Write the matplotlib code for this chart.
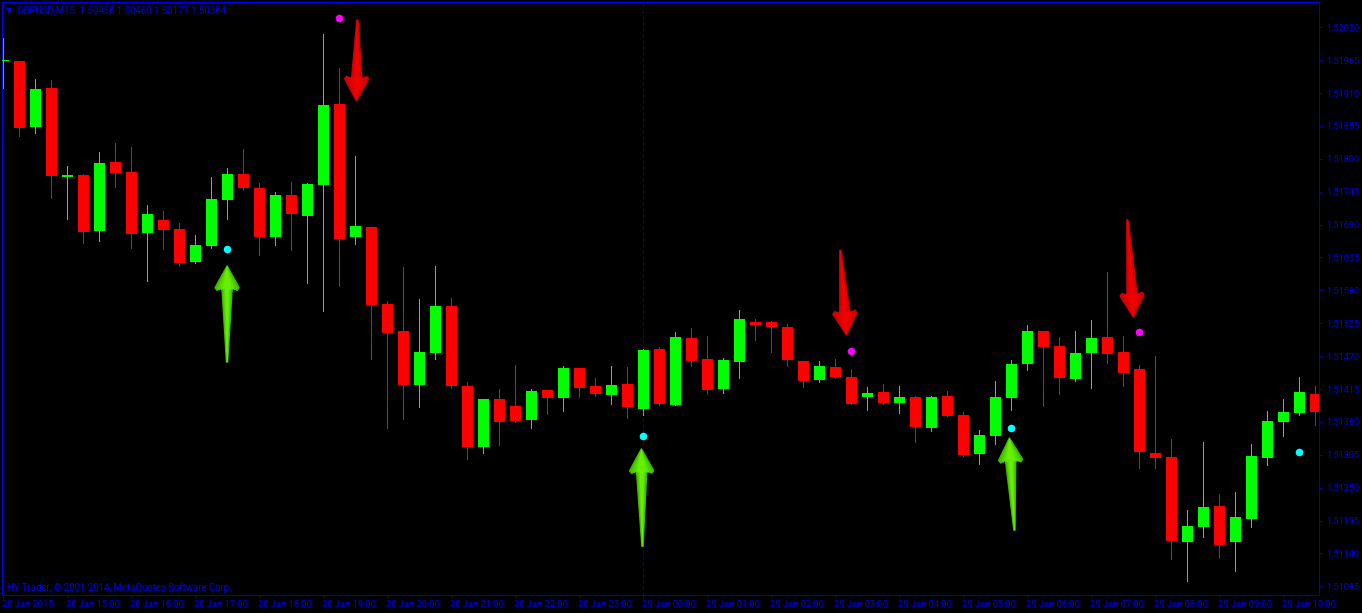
import matplotlib
matplotlib.use('Agg')
import matplotlib.pyplot as plt
import numpy as np
from matplotlib.patches import Polygon
from matplotlib.transforms import IdentityTransform, ScaledTranslation

plt.rcParams['font.family'] = ['Roboto', 'DejaVu Sans']

# 15 minute bars, prices in 1e-5 (points)
opens = [151964, 151964, 151853, 151918, 151770, 151773, 151679, 151795, 151778, 151676,
         151698, 151683, 151628, 151655, 151732, 151775, 151751, 151670, 151739, 151705,
         151757, 151892, 151670, 151686, 151557, 151512, 151422, 151475, 151554, 151420,
         151318, 151398, 151387, 151364, 151413, 151400, 151450, 151420, 151405, 151423,
         151382, 151482, 151389, 151500, 151465, 151415, 151461, 151527, 151527, 151519,
         151462, 151430, 151452, 151435, 151402, 151410, 151392, 151402, 151350, 151403,
         151371, 151306, 151337, 151400, 151457, 151512, 151487, 151432, 151476, 151502,
         151477, 151448, 151308, 151301, 151159, 151184, 151219, 151159, 151198, 151300,
         151360, 151375, 151407]
highs = [152002, 151964, 151934, 151932, 151788, 151775, 151811, 151826, 151820, 151723,
         151713, 151693, 151673, 151770, 151785, 151816, 151760, 151744, 151761, 151760,
         152009, 151952, 151805, 151686, 151562, 151619, 151566, 151621, 151567, 151427,
         151398, 151415, 151455, 151415, 151413, 151453, 151450, 151433, 151453, 151452,
         151482, 151485, 151510, 151517, 151504, 151467, 151547, 151532, 151529, 151524,
         151462, 151462, 151465, 151448, 151418, 151423, 151420, 151403, 151403, 151412,
         151376, 151346, 151428, 151463, 151522, 151512, 151502, 151512, 151530, 151611,
         151504, 151455, 151470, 151331, 151213, 151326, 151239, 151243, 151323, 151378,
         151398, 151435, 151420]
lows = [151918, 151839, 151844, 151735, 151700, 151660, 151663, 151753, 151651, 151596,
        151650, 151620, 151625, 151651, 151700, 151748, 151640, 151656, 151648, 151593,
        151546, 151588, 151658, 151466, 151349, 151365, 151385, 151466, 151417, 151298,
        151308, 151322, 151360, 151350, 151374, 151379, 151402, 151404, 151390, 151367,
        151372, 151389, 151389, 151454, 151407, 151409, 151434, 151497, 151477, 151454,
        151419, 151427, 151433, 151390, 151380, 151390, 151375, 151327, 151345, 151370,
        151303, 151290, 151323, 151380, 151447, 151387, 151407, 151429, 151417, 151459,
        151420, 151283, 151283, 151131, 151094, 151167, 151132, 151111, 151184, 151288,
        151337, 151372, 151355]
closes = [151965, 151852, 151917, 151772, 151773, 151678, 151793, 151776, 151675, 151708,
          151681, 151626, 151656, 151733, 151775, 151752, 151670, 151739, 151707, 151758,
          151890, 151666, 151688, 151556, 151509, 151422, 151477, 151554, 151420, 151318,
          151398, 151360, 151362, 151412, 151400, 151450, 151417, 151407, 151422, 151385,
          151480, 151390, 151502, 151462, 151414, 151463, 151532, 151522, 151519, 151464,
          151428, 151453, 151435, 151390, 151408, 151392, 151402, 151351, 151402, 151370,
          151305, 151338, 151402, 151457, 151512, 151486, 151434, 151475, 151500, 151474,
          151442, 151310, 151300, 151161, 151186, 151218, 151154, 151201, 151303, 151361,
          151376, 151410, 151377]

# indicator dots
sell_bars = [21, 53, 71]
sell_prices = [152035, 151479, 151510]
buy_bars = [14, 40, 63, 81]
buy_prices = [151649, 151336, 151350, 151310]

# hand drawn arrows: tip bar, tip price, tail bar, tail price
up_arrows = [(13.98, 151621, 13.98, 151460),
             (39.875, 151315, 39.94, 151152),
             (62.875, 151333, 63.19, 151179)]
down_arrows = [(22.06, 151897, 22.125, 152032),
               (52.69, 151505, 52.31, 151647),
               (70.625, 151535, 70.25, 151698)]

separator_bar = 40

price_ticks = [152020, 151965, 151910, 151855, 151800, 151745, 151690, 151635, 151580,
               151525, 151470, 151415, 151360, 151305, 151250, 151195, 151140, 151085]
time_ticks = list(range(0, 81, 4))
time_labels = ['28 Jan 2015', '28 Jan 15:00', '28 Jan 16:00', '28 Jan 17:00', '28 Jan 18:00',
               '28 Jan 19:00', '28 Jan 20:00', '28 Jan 21:00', '28 Jan 22:00', '28 Jan 23:00',
               '29 Jan 00:00', '29 Jan 01:00', '29 Jan 02:00', '29 Jan 03:00', '29 Jan 04:00',
               '29 Jan 05:00', '29 Jan 06:00', '29 Jan 07:00', '29 Jan 08:00', '29 Jan 09:00',
               '29 Jan 10:00']

header = 'GBPUSD,M15  1.50458 1.50460 1.50177 1.50384'
footer = 'HY Trader, © 2001-2014, MetaQuotes Software Corp.'

W, H = 1362, 613
TEXT_BLUE = '#0000f0'
UP = '#00ff00'
DOWN = '#ff0000'


def draw_arrow(ax, arrow, dark, light):
    tip_bar, tip_price, tail_bar, tail_price = arrow
    tip, tail = ax.transData.transform([(tip_bar, tip_price / 1e5), (tail_bar, tail_price / 1e5)])
    length = np.hypot(*(tail - tip))
    along = (tail - tip) / length
    side = np.array([-along[1], along[0]])
    # outline in pixels: distance from the tip, distance from the axis
    shape = [(0, 0), (20, 11), (22, 12), (24.5, 10), (21, 5.2), (length, 0.6),
             (length, -0.6), (21, -5.2), (24.5, -10), (22, -12), (20, -11)]
    dark = np.array(matplotlib.colors.to_rgb(dark))
    light = np.array(matplotlib.colors.to_rgb(light))
    for k, frac in enumerate([1, 0.9, 0.75, 0.55, 0.35]):
        pts = [tip + along * t + side * u * frac for t, u in shape]
        mix = dark + (light - dark) * (k / 4)
        ax.add_patch(Polygon(pts, closed=True, facecolor=mix, edgecolor=mix,
                             linewidth=1.0 if k == 0 else 0, joinstyle='round',
                             transform=IdentityTransform(), zorder=5))


fig = plt.figure(figsize=(W / 100, H / 100), dpi=100, facecolor='black')
ax = fig.add_axes([2.4 / W, (H - 595.4) / H, 1317 / W, 593 / H], facecolor='black')

bars = np.arange(len(opens))
o = np.array(opens) / 1e5
h = np.array(highs) / 1e5
l = np.array(lows) / 1e5
c = np.array(closes) / 1e5
colors = [UP if b >= a else DOWN for a, b in zip(o, c)]

ax.axvline(separator_bar, color='#0000b4', linewidth=0.72, linestyle=(0, (3, 3)), zorder=1)
ax.vlines(bars, l, h, colors=colors, linewidth=0.72, antialiased=False, zorder=2)
ax.bar(bars, np.abs(c - o), bottom=np.minimum(o, c), width=11 / 16, color=colors,
       linewidth=0, antialiased=False, zorder=3)

ax.scatter(sell_bars, np.array(sell_prices) / 1e5, s=30, color='#ff00ff', linewidths=0, zorder=4)
ax.scatter(buy_bars, np.array(buy_prices) / 1e5, s=30, color='#00ffff', linewidths=0, zorder=4)

ax.set_xlim(-0.0625, 82.25)
ax.set_ylim(1.510698, 1.520617)

for arrow in up_arrows:
    draw_arrow(ax, arrow, '#3cb800', '#66f000')
for arrow in down_arrows:
    draw_arrow(ax, arrow, '#c80000', '#f00000')

ax.yaxis.tick_right()
ax.set_yticks(np.array(price_ticks) / 1e5)
ax.set_yticklabels(['%.5f' % (p / 1e5) for p in price_ticks])
ax.set_xticks(time_ticks)
ax.set_xticklabels(time_labels, ha='left')
ax.tick_params(axis='both', color='#0000c8', labelcolor=TEXT_BLUE, length=2.2, width=0.72)
ax.tick_params(axis='y', pad=2.6, labelsize=6.6)
ax.tick_params(axis='x', pad=1.2, labelsize=6.75)
shift = ScaledTranslation(-1.5 / 100, 0, fig.dpi_scale_trans)
for label in ax.get_xticklabels():
    label.set_transform(label.get_transform() + shift)

for side, spine in ax.spines.items():
    spine.set_linewidth(0.72)
    spine.set_antialiased(False)
    spine.set_color('#0000ff' if side in ('left', 'top') else '#0000c8')

ax.plot([9.3 / W], [1 - 10.8 / H], marker='v', markersize=4.5, color=TEXT_BLUE,
        markeredgewidth=0, transform=fig.transFigure, clip_on=False)
fig.text(17 / W, 1 - 10.5 / H, header, color=TEXT_BLUE, fontsize=6.9, va='center')
fig.text(7 / W, 1 - 588 / H, footer, color=TEXT_BLUE, fontsize=6.9, va='center')

fig.savefig('out.png', dpi=100, facecolor='black')
